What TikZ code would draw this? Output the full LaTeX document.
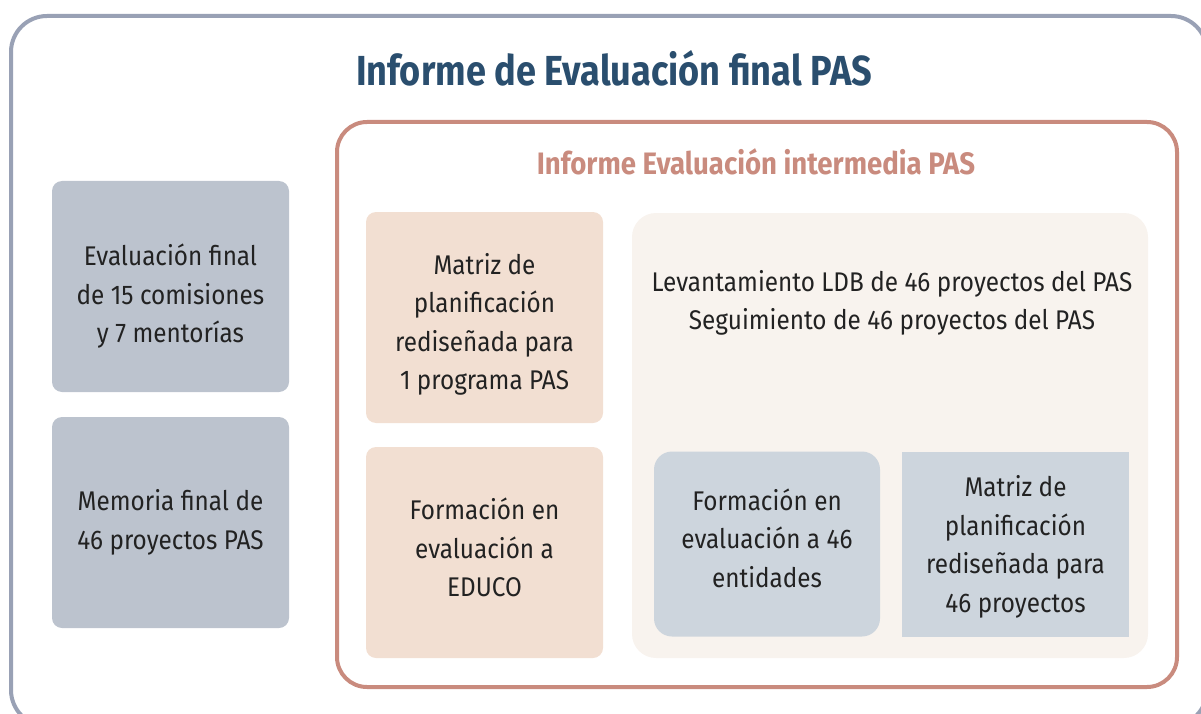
\documentclass[tikz,border=0pt]{standalone}
\usepackage{fontspec}
\setmainfont{Fira Sans}[FakeStretch=0.90]
\newfontfamily\titlefont{Fira Sans}[FakeStretch=0.86]
\newfontfamily\subtitlefont{Fira Sans}[FakeStretch=0.89]
\definecolor{framegrey}{HTML}{99A1B5}
\definecolor{pinkline}{HTML}{C98B7E}
\definecolor{titleblue}{HTML}{2A4E6E}
\definecolor{textdark}{HTML}{222222}
\definecolor{greyfill}{HTML}{BCC3CE}
\definecolor{peachfill}{HTML}{F2DFD2}
\definecolor{creamfill}{HTML}{F8F3EE}
\definecolor{bluefill}{HTML}{CDD5DD}

\begin{document}
\begin{tikzpicture}[
			x=1pt, y=-1pt,
			every node/.style={inner sep=0pt, align=center, text=textdark,
				font=\fontsize{27}{38.5}\selectfont},
			leftbox/.style={fill=greyfill, rounded corners=10pt,
				minimum width=237pt, minimum height=211pt},
			peachbox/.style={fill=peachfill, rounded corners=10pt,
				minimum width=237pt, minimum height=211pt},
			creambox/.style={fill=creamfill, rounded corners=24pt,
				minimum width=516pt, minimum height=445pt},
			bluebox/.style={fill=bluefill, minimum width=227pt, minimum height=185pt}
			]
			\useasboundingbox (0,0) rectangle (1201,714);
			\clip (0,0) rectangle (1201,714);
			% marcos
			\draw [framegrey, line width=4pt, rounded corners=36pt] (11,16) rectangle (1207,726);
			\draw [pinkline, line width=4pt, rounded corners=30pt] (337,122) rectangle (1177,687);
			\node (titulo) [text=titleblue, font=\fontsize{42}{48}\titlefont\bfseries] at (614,68)
				{Informe de Evaluación final PAS};
			\node (intermedia) [text=pinkline, font=\fontsize{31}{36}\subtitlefont\bfseries] at (756,162)
				{Informe Evaluación intermedia PAS};
			% columna izquierda
			\node (evafinal) [leftbox] at (170.5,286.5) {};
			\node [yshift=-10pt] at (evafinal)
				{Evaluación final\\de 15 comisiones\\y 7 mentorías};
			\node (memoria) [leftbox] at (170.5,522.5) {};
			\node at (memoria)
				{Memoria final de\\46 proyectos PAS};
			% evaluacion intermedia
			\node (matriz) [peachbox] at (484.5,317.5) {};
			\node [yshift=-7pt] at (matriz)
				{Matriz de\\planificación\\rediseñada para\\1 programa PAS};
			\node (educo) [peachbox] at (484.5,552.5) {};
			\node [yshift=5pt] at (educo)
				{Formación en\\evaluación a\\EDUCO};
			\node (proyectos) [creambox] at (890,435.5) {};
			\node (ldb) at (892,303)
				{Levantamiento LDB de 46 proyectos del PAS\\Seguimiento de 46 proyectos del PAS};
			\node (entidades) [bluebox, rounded corners=18pt, minimum width=226pt] at (767,544) {};
			\node [yshift=6pt] at (entidades)
				{Formación en\\evaluación a 46\\entidades};
			\node (matriz46) [bluebox] at (1015.5,544) {};
			\node [yshift=-3pt] at (matriz46)
				{Matriz de\\planificación\\rediseñada para\\46 proyectos};
		\end{tikzpicture}
\end{document}
